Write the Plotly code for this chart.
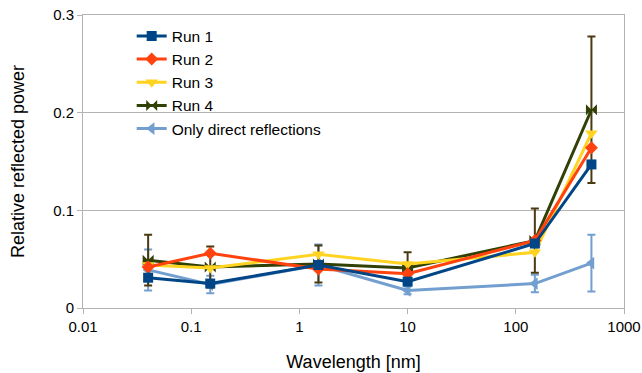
import plotly.graph_objects as go

wavelength = [0.04, 0.15, 1.5, 10, 150, 500]
run1 = [0.031, 0.025, 0.044, 0.027, 0.066, 0.147]
run2 = [0.042, 0.056, 0.040, 0.035, 0.069, 0.164]
run3 = [0.044, 0.041, 0.055, 0.045, 0.057, 0.179]
run4 = [0.049, 0.042, 0.045, 0.041, 0.069, 0.203]
run4_err = [0.026, 0.021, 0.019, 0.016, 0.033, 0.075]
direct = [0.039, 0.024, 0.044, 0.018, 0.025, 0.046]
direct_err = [0.021, 0.009, 0.021, 0.004, 0.009, 0.029]

x_ticks = [0.01, 0.1, 1, 10, 100, 1000]
x_ticktext = ["0.01", "0.1", "1", "10", "100", "1000"]
y_ticks = [0, 0.1, 0.2, 0.3]
y_ticktext = ["0", "0.1", "0.2", "0.3"]

fig = go.Figure()

# drawn bottom-to-top: direct, Run 4, Run 3, Run 2, Run 1
fig.add_trace(go.Scatter(
    x=wavelength, y=direct, name="Only direct reflections", legendrank=5,
    mode="lines+markers",
    line=dict(color="#729fcf", width=3),
    marker=dict(symbol="triangle-left", size=11, color="#729fcf"),
    error_y=dict(type="data", array=direct_err, visible=True, color="#729fcf", thickness=2, width=4),
))
fig.add_trace(go.Scatter(
    x=wavelength, y=run4, name="Run 4", legendrank=4,
    mode="lines+markers",
    line=dict(color="#314004", width=3),
    marker=dict(symbol="bowtie", size=11, color="#314004"),
    error_y=dict(type="data", array=run4_err, visible=True, color="#4a3a12", thickness=2, width=4),
))
fig.add_trace(go.Scatter(
    x=wavelength, y=run3, name="Run 3", legendrank=3,
    mode="lines+markers",
    line=dict(color="#ffd320", width=3),
    marker=dict(symbol="triangle-down", size=11, color="#ffd320"),
))
fig.add_trace(go.Scatter(
    x=wavelength, y=run2, name="Run 2", legendrank=2,
    mode="lines+markers",
    line=dict(color="#ff420e", width=3),
    marker=dict(symbol="diamond", size=10, color="#ff420e"),
))
fig.add_trace(go.Scatter(
    x=wavelength, y=run1, name="Run 1", legendrank=1,
    mode="lines+markers",
    line=dict(color="#004586", width=3),
    marker=dict(symbol="square", size=10, color="#004586"),
))

fig.update_layout(
    width=642, height=373,
    margin=dict(l=83, r=18, t=15, b=65),
    paper_bgcolor="white", plot_bgcolor="white",
    font=dict(family="Liberation Sans, Arial, sans-serif", size=14, color="#000000"),
    showlegend=True,
    legend=dict(
        x=0.09, y=0.985, xanchor="left", yanchor="top",
        bgcolor="rgba(0,0,0,0)", font=dict(size=15.5),
        itemwidth=30, tracegroupgap=0, traceorder="normal",
    ),
    xaxis=dict(
        type="log", range=[-2, 3], automargin=False,
        tickvals=x_ticks, ticktext=x_ticktext, ticklabeloverflow="allow",
        showgrid=False, zeroline=False,
        showline=True, linecolor="#b3b3b3", linewidth=1, mirror=True,
        ticks="outside", ticklen=5, tickcolor="#b3b3b3",
        tickfont=dict(size=15),
        title=dict(text="Wavelength [nm]", font=dict(size=18), standoff=21),
    ),
    yaxis=dict(
        range=[0, 0.3], automargin=False,
        tickvals=y_ticks, ticktext=y_ticktext, ticklabeloverflow="allow",
        showgrid=True, gridcolor="#b3b3b3", gridwidth=1, zeroline=False,
        showline=True, linecolor="#b3b3b3", linewidth=1, mirror=True,
        ticks="outside", ticklen=5, tickcolor="#b3b3b3",
        tickfont=dict(size=15),
        title=dict(text="Relative reflected power", font=dict(size=18), standoff=23),
    ),
)

# remove the default page margin so the 642x373 figure fills the window exactly
fig.write_html(
    "out.html",
    config={"displayModeBar": False},
    post_script="document.body.style.margin='0';",
)
